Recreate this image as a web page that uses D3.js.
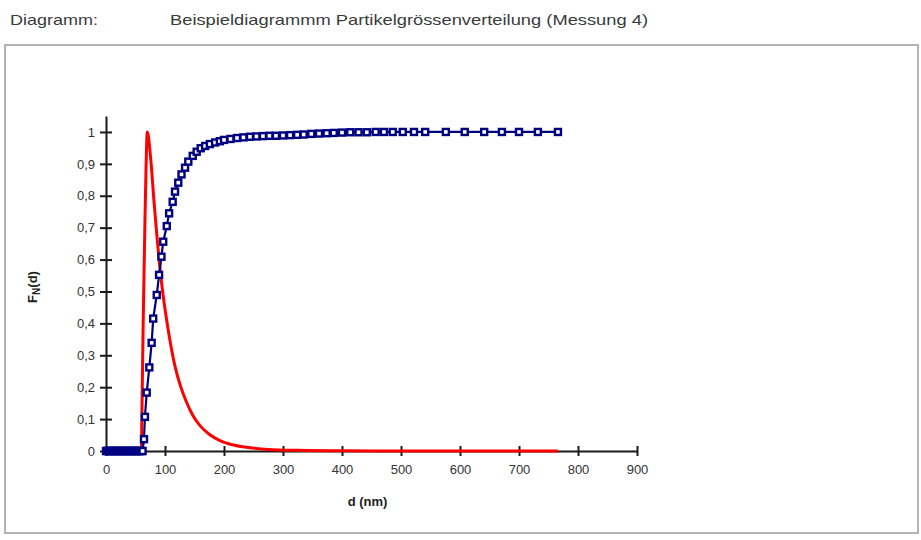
<!DOCTYPE html>
<html>
<head>
<meta charset="utf-8">
<title>Partikelgrössenverteilung</title>
<script src="https://cdn.jsdelivr.net/npm/d3@7"></script>
<style>
    body { margin: 0; background: #fff; }
    svg { display: block; font-family: "Liberation Sans", Arial, sans-serif; }
    .axis path, .axis line { stroke: #1a1a1a; stroke-width: 2; }
    .axis text { fill: #333; font-size: 13px; }
    .axis-title { font-weight: bold; font-size: 13px; fill: #222; }
    .header { font-size: 15px; fill: #3a3a3a; }
</style>
</head>
<body>
<div id="chart"></div>
<script>

// ------------------------------------------------------------------
// Data
// ------------------------------------------------------------------

// cumulative distribution F_N(d), blue squares
var blueD = [0, 2, 4, 6, 8, 10, 12, 14, 16, 18, 20, 22, 24, 26, 28, 30, 32, 34, 36, 38,
    40, 42, 44, 46, 48, 50, 52, 54, 56, 58, 60, 62,
    64.4, 66, 69, 73.4, 77.4, 80, 86, 90, 94, 97, 103, 107, 113, 117, 122.5, 128, 134,
    139.5, 147, 153.7, 160.5, 168, 176, 185, 193, 200, 211, 222, 233, 244, 255, 266,
    277, 288, 300, 312, 324, 335, 348, 361, 374, 386, 400, 414, 428, 442, 457, 471,
    486, 503, 522, 541, 576, 608, 641, 671, 700, 732, 766];
var blueF = [0, 0, 0, 0, 0, 0, 0, 0, 0, 0, 0, 0, 0, 0, 0, 0, 0, 0, 0, 0,
    0, 0, 0, 0, 0, 0, 0, 0, 0, 0, 0, 0,
    0.037, 0.107, 0.183, 0.262, 0.339, 0.415, 0.489, 0.552, 0.609, 0.656, 0.705, 0.745, 0.781, 0.813, 0.841, 0.867, 0.888,
    0.907, 0.925, 0.938, 0.949, 0.956, 0.962, 0.967, 0.971, 0.975, 0.978, 0.981, 0.983, 0.985, 0.986, 0.987,
    0.988, 0.988, 0.989, 0.99, 0.991, 0.992, 0.994, 0.995, 0.996, 0.997, 0.998, 0.999, 0.999, 0.999, 1, 1,
    1, 1, 1, 1, 1, 1, 1, 1, 1, 1, 1];

// normalised density, red line
var redD = [60, 61.5, 63, 64.5, 66, 68, 70, 72, 74, 77, 81, 86, 91, 96,
    102, 109, 117, 126, 136, 147, 160, 176, 194, 216, 242, 275, 325, 400, 500, 600, 700, 766];
var redF = [0, 0.2, 0.4, 0.56, 0.72, 0.9, 1, 0.985, 0.95, 0.89, 0.79, 0.68, 0.58, 0.5,
    0.42, 0.34, 0.265, 0.205, 0.155, 0.112, 0.078, 0.051, 0.032, 0.019, 0.011, 0.005, 0.002, 0.0005, 0, 0, 0, 0];

var xTicks = [0, 100, 200, 300, 400, 500, 600, 700, 800, 900];
var yTicks = [0, 0.1, 0.2, 0.3, 0.4, 0.5, 0.6, 0.7, 0.8, 0.9, 1];
var yTickLabels = ["0", "0,1", "0,2", "0,3", "0,4", "0,5", "0,6", "0,7", "0,8", "0,9", "1"];

var headerLabel = "Diagramm:";
var headerTitle = "Beispieldiagrammm Partikelgrössenverteilung (Messung 4)";

// ------------------------------------------------------------------
// Rendering
// ------------------------------------------------------------------
function RenderChart() {

    var width = 921, height = 540;

    var svg = d3.select("#chart").append("svg")
        .attr("width", width)
        .attr("height", height);

    // header line
    svg.append("text").attr("class", "header")
        .attr("x", 10).attr("y", 25)
        .attr("textLength", 88).attr("lengthAdjust", "spacingAndGlyphs")
        .text(headerLabel);
    svg.append("text").attr("class", "header")
        .attr("x", 170).attr("y", 25)
        .attr("textLength", 478).attr("lengthAdjust", "spacingAndGlyphs")
        .text(headerTitle);

    // chart frame
    svg.append("rect")
        .attr("x", 5).attr("y", 45)
        .attr("width", 913).attr("height", 488)
        .attr("fill", "none")
        .attr("stroke", "#b4b4b4")
        .attr("stroke-width", 2);

    var x = d3.scaleLinear().domain([0, 900]).range([106, 637]);
    var y = d3.scaleLinear().domain([0, 1.05]).range([451, 116]);

    // axes, ticks crossing the axis line
    var gx = svg.append("g").attr("class", "axis")
        .attr("transform", "translate(0," + y(0) + ")")
        .call(d3.axisBottom(x).tickValues(xTicks).tickSizeInner(5).tickSizeOuter(0).tickPadding(9));
    gx.selectAll(".tick line").attr("y1", -5);

    var gy = svg.append("g").attr("class", "axis")
        .attr("transform", "translate(" + x(0) + ",0)")
        .call(d3.axisLeft(y).tickValues(yTicks).tickSizeInner(6).tickSizeOuter(0).tickPadding(5)
            .tickFormat(function(d, i) { return yTickLabels[i]; }));
    gy.selectAll(".tick line").attr("x1", 6);
    gy.attr("font-size", null).attr("font-family", null);
    gx.attr("font-size", null).attr("font-family", null);

    // axis titles
    svg.append("text").attr("class", "axis-title")
        .attr("x", x(450) - 4).attr("y", 506)
        .attr("text-anchor", "middle")
        .text("d (nm)");

    var yTitle = svg.append("text").attr("class", "axis-title")
        .attr("transform", "translate(37,287) rotate(-90)")
        .attr("text-anchor", "middle");
    yTitle.append("tspan").text("F");
    yTitle.append("tspan").attr("font-size", "10px").attr("dy", 3).text("N");
    yTitle.append("tspan").attr("dy", -3).text("(d)");

    // red density curve
    var red = redD.map(function(d, i) { return [d, redF[i]]; });
    svg.append("path")
        .datum(red)
        .attr("fill", "none")
        .attr("stroke", "#ff0000")
        .attr("stroke-width", 3)
        .attr("stroke-linejoin", "round")
        .attr("d", d3.line()
            .x(function(d) { return x(d[0]); })
            .y(function(d) { return y(d[1]); })
            .curve(d3.curveMonotoneX));

    // blue cumulative series: line + square markers
    var blue = blueD.map(function(d, i) { return [d, blueF[i]]; });
    svg.append("path")
        .datum(blue)
        .attr("fill", "none")
        .attr("stroke", "#000080")
        .attr("stroke-width", 2.2)
        .attr("d", d3.line()
            .x(function(d) { return x(d[0]); })
            .y(function(d) { return y(d[1]); }));

    var m = 6;
    svg.append("g").selectAll("rect")
        .data(blue)
        .enter().append("rect")
        .attr("x", function(d) { return x(d[0]) - m / 2; })
        .attr("y", function(d) { return y(d[1]) - m / 2; })
        .attr("width", m)
        .attr("height", m)
        .attr("fill", "#fff")
        .attr("stroke", "#000080")
        .attr("stroke-width", 2.4);
}

RenderChart();
</script>
</body>
</html>
